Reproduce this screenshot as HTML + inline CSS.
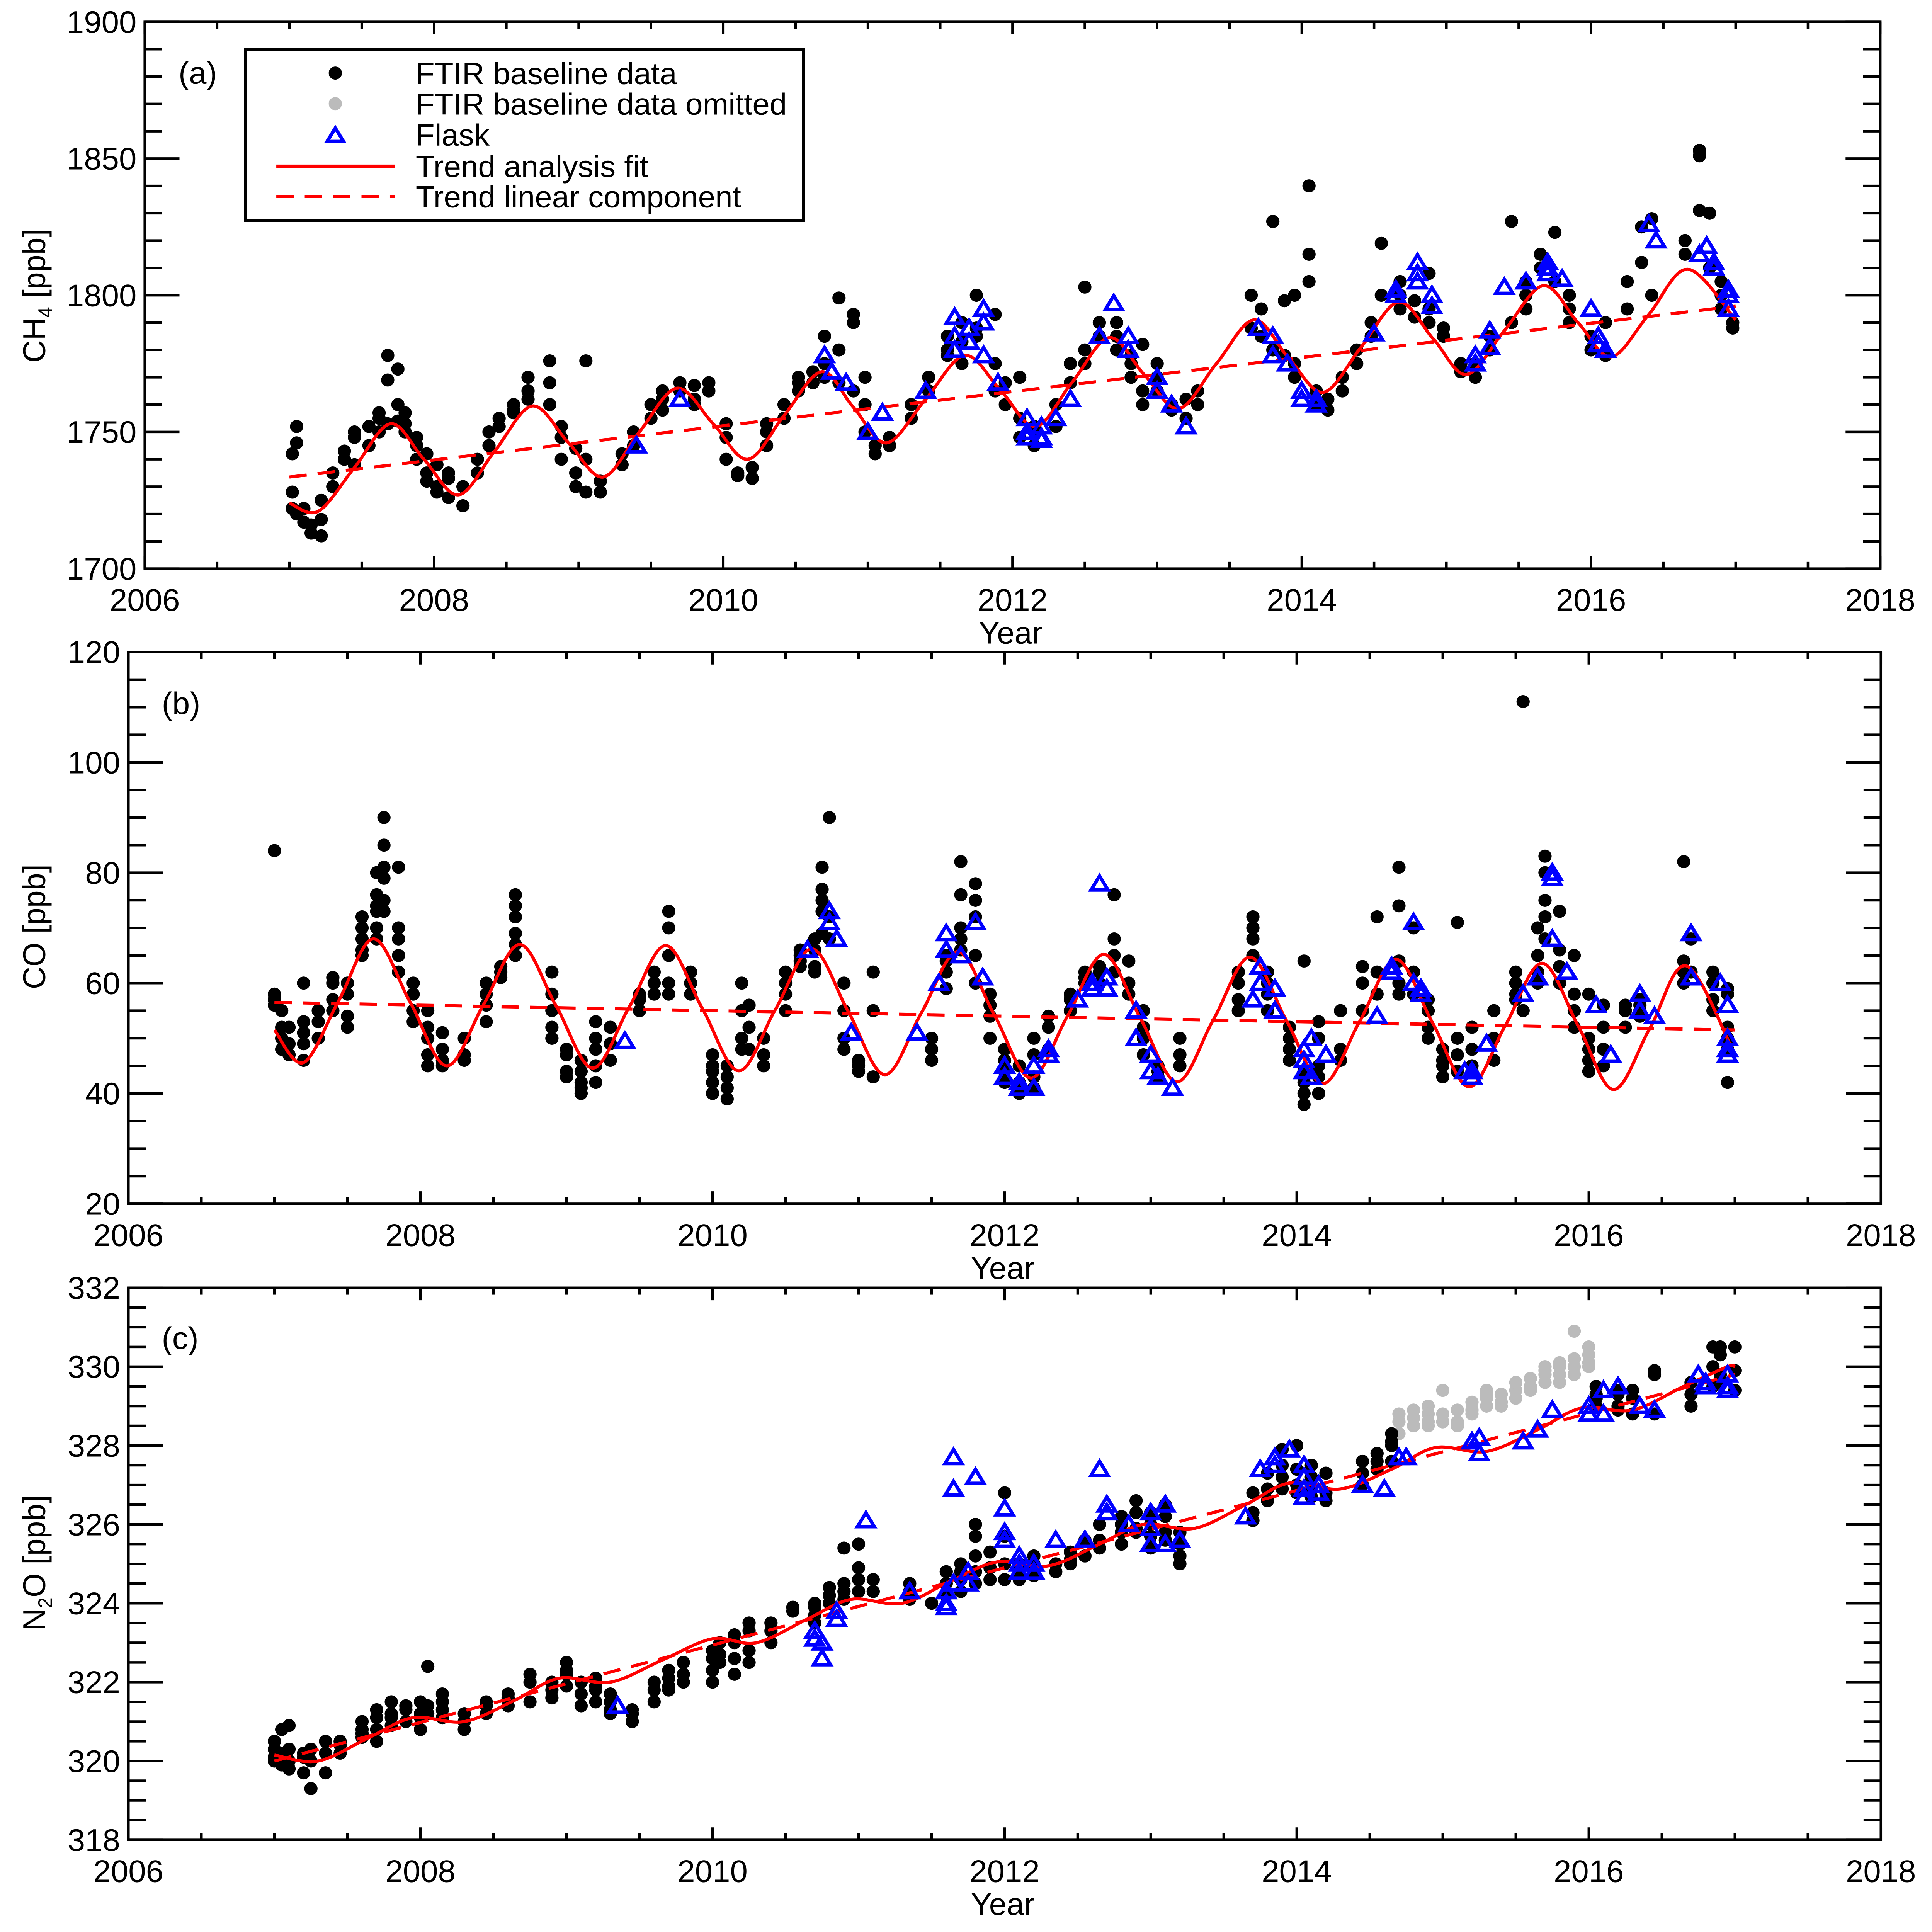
<!DOCTYPE html>
<html><head><meta charset="utf-8"><style>
html,body{margin:0;padding:0;background:#fff;overflow:hidden;width:100%;height:100%;}
svg{display:block;position:absolute;left:0;top:0;width:100vw;height:100vh;font-family:"Liberation Sans",sans-serif;}
</style></head><body>
<svg id="fig" xmlns="http://www.w3.org/2000/svg" viewBox="0 0 6125 6187" preserveAspectRatio="none">
<rect x="0" y="0" width="6125" height="6187" fill="#fff"/>
<g id="legend">
<rect x="779" y="158" width="1768" height="548" fill="#fff" stroke="#000" stroke-width="10"/>
<circle cx="1063" cy="234" r="21" fill="#000"/>
<text x="1318" y="269" font-size="98">FTIR baseline data</text>
<circle cx="1063" cy="332" r="21" fill="#bbb"/>
<text x="1318" y="367" font-size="98">FTIR baseline data omitted</text>
<polygon points="1037,453 1089,453 1063,410" fill="none" stroke="#00f" stroke-width="11"/>
<text x="1318" y="466" font-size="98">Flask</text>
<line x1="876" y1="532" x2="1252" y2="532" stroke="#f00" stroke-width="10"/>
<text x="1318" y="567" font-size="98">Trend analysis fit</text>
<line x1="876" y1="629" x2="1252" y2="629" stroke="#f00" stroke-width="10" stroke-dasharray="55 35"/>
<text x="1318" y="664" font-size="98">Trend linear component</text>
</g>
</svg>
<script>
// ---------- Panel (a) CH4 ----------
const ch4Ftir = [
[2007.02,1722,1728,1742],[2007.05,1752,1746,1720],[2007.1,1717,1722],[2007.15,1713,1716],[2007.22,1725,1712,1718],
[2007.3,1730,1735],[2007.38,1740,1743],[2007.45,1750,1748,1738],[2007.55,1745,1752],
[2007.62,1755,1757,1750],[2007.68,1778,1769,1753],[2007.75,1773,1760,1754],[2007.8,1757,1753,1750],
[2007.88,1748,1745,1740],[2007.95,1735,1732,1742],[2008.02,1730,1728,1738],[2008.1,1733,1726,1735],[2008.2,1723,1730],
[2008.3,1735,1740],[2008.38,1745,1750],[2008.45,1752,1755],[2008.55,1757,1760,1758],[2008.65,1765,1770,1762],
[2008.8,1776,1768,1760],[2008.88,1752,1748,1740],[2008.98,1735,1730,1744],[2009.05,1728,1776,1740],[2009.15,1728,1732],
[2009.3,1738,1742],[2009.38,1745,1750],[2009.5,1755,1760],[2009.58,1758,1762,1765],
[2009.7,1765,1768],[2009.8,1767,1762,1760],[2009.9,1768,1765],
[2010.02,1748,1740,1753],[2010.1,1735,1734],[2010.2,1737,1733],[2010.3,1745,1750,1753],
[2010.42,1755,1760],[2010.52,1765,1770,1768],[2010.62,1772,1768],
[2010.7,1785,1775,1770],[2010.8,1780,1799,1768],[2010.9,1790,1793,1765],[2010.98,1760,1770,1750],[2011.05,1745,1742],
[2011.15,1748,1745],[2011.3,1755,1760],[2011.42,1765,1770],
[2011.55,1780,1785,1778],[2011.65,1790,1775,1783],[2011.75,1788,1800,1785],
[2011.88,1775,1765,1793],[2011.95,1760,1768],[2012.05,1755,1748,1770],[2012.15,1752,1750,1745],
[2012.3,1752,1760],[2012.4,1768,1775],[2012.5,1780,1775,1803],[2012.6,1790,1785],
[2012.72,1790,1785,1780],[2012.82,1778,1775,1770],[2012.9,1765,1760,1782],[2013.0,1775,1770,1765],
[2013.1,1760,1758],[2013.2,1755,1762],[2013.28,1765,1760],
[2013.65,1788,1800],[2013.72,1795,1785],[2013.8,1780,1827],[2013.88,1798,1778],[2013.95,1770,1775,1800],
[2014.05,1840,1815,1805],[2014.1,1765,1760],[2014.18,1758,1762],
[2014.28,1765,1770],[2014.38,1775,1780],[2014.48,1785,1790],[2014.55,1800,1819],
[2014.68,1795,1800,1805],[2014.78,1798,1792],[2014.88,1795,1808,1790],[2014.98,1785,1788],
[2015.1,1775,1772],[2015.2,1770,1775],[2015.3,1780,1785],[2015.45,1827,1790],
[2015.55,1795,1800,1805],[2015.65,1810,1815],[2015.75,1823,1805],[2015.85,1795,1790,1800],
[2016.0,1785,1780],[2016.1,1778,1790],[2016.25,1795,1805],[2016.35,1812,1825],[2016.42,1828,1800],
[2016.65,1815,1820],[2016.75,1853,1851,1831],[2016.82,1830,1810],[2016.9,1800,1805,1795],[2016.98,1790,1788]
];
const ch4Flask = [
[2009.4,1745],[2009.7,1762],[2010.7,1778],[2010.75,1772],[2010.85,1768],[2011.0,1750],[2011.1,1757],[2011.4,1765],
[2011.6,1785,1780,1792],[2011.7,1788,1783],[2011.8,1795,1790,1778],[2011.9,1768],
[2012.1,1750,1748,1755],[2012.2,1747,1752,1748],[2012.3,1755],[2012.4,1762],[2012.6,1785],[2012.7,1797],[2012.8,1785,1780],
[2013.0,1770,1765],[2013.1,1760],[2013.2,1752],[2013.7,1788],[2013.8,1785,1778],[2013.9,1775],
[2014.0,1765,1762],[2014.1,1760,1762],[2014.5,1786],[2014.65,1800,1802],[2014.8,1808,1812,1805],[2014.9,1796,1800],
[2015.2,1778,1775],[2015.3,1781,1787],[2015.4,1803],[2015.55,1805],[2015.7,1808,1812,1810],[2015.8,1806],
[2016.0,1795],[2016.05,1785,1782],[2016.1,1780],[2016.4,1826],[2016.45,1820],[2016.75,1815],[2016.8,1818],
[2016.85,1812,1810],[2016.95,1800,1802,1795]
];
const ch4FitT = [2007.0,2007.2,2007.45,2007.7,2007.93,2008.17,2008.42,2008.68,2008.93,2009.17,2009.42,2009.68,2009.93,2010.17,2010.42,2010.68,2010.9,2011.13,2011.4,2011.67,2011.92,2012.16,2012.41,2012.67,2012.91,2013.15,2013.41,2013.67,2013.91,2014.15,2014.41,2014.67,2014.91,2015.14,2015.4,2015.67,2015.91,2016.14,2016.4,2016.67,2017.0];
const ch4FitV = [1724,1721,1737,1753,1740,1727,1743,1759.5,1746,1733.5,1750,1766,1753,1740,1756,1772,1759,1746,1762,1778,1765,1752,1768,1784.5,1771,1758.5,1775,1791,1777,1764.5,1781,1797.5,1784,1771,1787,1803.5,1790,1777.5,1793,1809.5,1791];
const ch4LinT = [2007.0,2017.0];
const ch4LinV = [1733.5,1796];
const ch4Ticks = [1700,1750,1800,1850,1900];

// ---------- Panel (b) CO ----------
const coFtir = [
[2007.0,58,57,56,84],[2007.05,55,52,50,48],[2007.1,52,49,47],[2007.2,53,51,49,46,60],[2007.3,55,53,50],[2007.4,61,60,57,55],
[2007.5,58,54,52,60],[2007.6,65,68,70,72,66],[2007.7,74,76,73,80,70,68],[2007.75,90,85,81,79,75,73],[2007.85,81,70,68,65,62],
[2007.95,60,58,55,53],[2008.05,55,52,50,47,45],[2008.15,48,46,45,51],[2008.3,46,47,50],[2008.45,53,56,58,60],[2008.55,61,62,63],
[2008.65,65,67,69,72,74,76],[2008.9,62,58,55,52,50],[2009.0,48,47,44,43],[2009.1,42,40,41,44,46],[2009.2,42,45,48,50,53],
[2009.3,46,49,52],[2009.5,55,57,58],[2009.6,58,60,62],[2009.7,65,73,70,60,58],[2009.85,62,60,58],[2010.0,45,44,42,40,47],
[2010.1,43,39,41,45],[2010.2,48,50,55,60],[2010.25,52,56,48],[2010.35,45,47,50],[2010.5,55,58,60,62],[2010.6,63,64,65,66],
[2010.7,66,68,63,62],[2010.75,81,75,77,73,69],[2010.8,90,72,68],[2010.9,60,55,50,48],[2011.0,46,45,44],[2011.1,43,55,62],
[2011.5,48,46,50],[2011.6,59,62,64,65],[2011.7,66,68,70,82,76],[2011.8,78,75,72,65,60],[2011.9,58,56,54,50],[2012.0,48,46,44,42],
[2012.1,40,42,45],[2012.2,41,43,47,50],[2012.3,48,52,54],[2012.45,55,57,58],[2012.55,60,61,62],[2012.65,63,62,60],
[2012.75,76,68,65,62],[2012.85,64,60,58],[2012.95,55,52,50,47],[2013.05,45,44,43],[2013.2,45,47,50],[2013.6,55,57,60,62],
[2013.7,65,68,70,72],[2013.8,62,60,58,55],[2013.95,52,50,48,46],[2014.05,44,42,40,38,64],[2014.15,40,43,45,50,53],[2014.3,55,48,46],
[2014.45,55,60,63],[2014.55,58,72,62],[2014.7,64,60,58,74,81],[2014.8,70,62,58],[2014.9,55,52,50,57],[2015.0,48,46,45,43],
[2015.1,44,47,50,71],[2015.2,48,45,44,52],[2015.35,46,50,55],[2015.5,57,58,60,62],[2015.55,111,55],[2015.65,60,62,65,70],
[2015.7,72,75,80,83,68],[2015.8,66,63,60,73],[2015.9,58,55,52,65],[2016.0,50,48,46,44,58],[2016.1,45,48,52,56],[2016.25,52,55,56],
[2016.35,54,56,57,55],[2016.65,60,62,64,82],[2016.7,68,62],[2016.85,60,57,55,62],[2016.95,58,52,50,48,42,59]
];
const coFlask = [
[2009.4,49.5],[2010.65,66],[2010.8,73,71],[2010.85,68],[2010.95,51],[2011.4,51],[2011.55,60],[2011.6,69,66],[2011.7,65],
[2011.8,71],[2011.85,61],[2012.0,45,43],[2012.1,42,41],[2012.2,41,45],[2012.3,47,48],[2012.5,57],[2012.6,59,60],[2012.65,78],
[2012.7,61,59],[2012.9,55,50],[2013.0,47,44],[2013.05,43],[2013.15,41],[2013.7,57],[2013.75,60,63],[2013.85,59,55],
[2014.05,46,44,48],[2014.1,43,50],[2014.2,47],[2014.55,54],[2014.65,63,62],[2014.8,71,60],[2014.85,58,59],[2015.15,44],
[2015.2,44,43],[2015.3,49],[2015.55,58],[2015.65,61],[2015.75,68,79,80],[2015.85,62],[2016.05,56],[2016.15,47],
[2016.35,55,58],[2016.45,54],[2016.7,69,61],[2016.9,60],[2016.95,56,50,48,47]
];
const coFitT = [2007.0,2007.2,2007.44,2007.68,2007.93,2008.18,2008.43,2008.68,2008.93,2009.18,2009.43,2009.68,2009.93,2010.18,2010.43,2010.68,2010.93,2011.18,2011.43,2011.68,2011.93,2012.18,2012.43,2012.68,2012.93,2013.18,2013.43,2013.68,2013.93,2014.18,2014.43,2014.68,2014.93,2015.18,2015.43,2015.68,2015.93,2016.17,2016.42,2016.67,2017.0];
const coFitV = [51.5,45.6,56.8,68,56.5,45,56,67,55.8,44.6,55.7,66.8,55.4,44.1,55.2,66.2,54.8,43.4,54.6,65.7,54.2,42.8,54,65.2,53.6,42.1,53.4,64.7,53.2,41.8,53,64.3,52.8,41.2,52.4,63.6,52.1,40.7,51.9,63.1,47];
const coLinT = [2007.0,2017.0];
const coLinV = [56.5,51.5];
const coTicks = [20,40,60,80,100,120];

// ---------- Panel (c) N2O ----------
const n2oFtir = [
[2007.0,320.1,320.3,320.0,320.5],[2007.05,320.2,319.9,320.8],[2007.1,320.9,320.0,319.8,320.3],[2007.2,320.2,319.7,320.1],
[2007.25,319.3,320.0,320.3],[2007.35,319.7,320.5,320.2],[2007.45,320.4,320.2,320.5],[2007.6,320.8,320.6,321.0,320.7],
[2007.7,321.1,320.8,320.5,321.3],[2007.8,321.5,321.1,320.9,321.2],[2007.9,321.4,321.0,321.3],[2008.0,321.2,321.5,321.1,320.8],
[2008.05,322.4,321.4,321.2],[2008.15,321.7,321.3,321.5,321.1],[2008.3,321.2,320.8,321.0],[2008.45,321.5,321.2,321.4],
[2008.6,321.7,321.4,321.6],[2008.75,322.0,321.5,322.2],[2008.9,322.0,321.8,321.6],[2009.0,322.5,322.3,321.9,322.2],
[2009.1,322.0,321.7,321.4],[2009.2,322.1,321.8,321.9,321.5],[2009.3,321.7,321.3,321.2,321.5],[2009.45,321.3,321.0,321.2],
[2009.6,321.5,321.8,322.0],[2009.7,321.8,322.1,322.3,321.9],[2009.8,322.2,322.5,322.0],[2010.0,322.6,322.3,322.0,322.8],
[2010.05,323.0,322.7,322.5],[2010.15,322.6,322.2,323.2,323.0],[2010.25,323.3,322.5,322.8,323.5],[2010.4,323.0,323.3,323.5],
[2010.55,323.8,323.9],[2010.7,323.9,324.0,323.5,323.7],[2010.8,324.2,324.0,324.4],[2010.9,324.3,324.5,324.1,325.4],
[2011.0,324.6,324.3,325.5,324.9],[2011.1,324.6,324.3],[2011.35,324.3,324.5,324.1],[2011.5,324.0],[2011.6,324.5,324.8,324.2],
[2011.7,324.6,325.0,324.3,324.8],[2011.8,325.2,325.7,324.8,324.5,326.0],[2011.9,325.3,324.9,324.6],[2012.0,325.0,324.6,326.8,325.7],
[2012.1,325.0,324.8,324.6],[2012.2,325.2,325.0,324.7,324.9],[2012.35,324.8,325.0],[2012.45,325.1,325.3,325.0],[2012.55,325.2,325.6],
[2012.65,325.6,326.0,325.4],[2012.8,325.8,326.0,326.2,325.5],[2012.9,326.3,325.8,325.9,326.6],[2013.0,326.0,325.7,325.4,326.3],
[2013.1,325.8,326.2,325.6,326.5],[2013.2,325.5,325.2,325.8,325.0],[2013.7,326.3,326.8,326.1],[2013.8,326.9,327.3,326.6],
[2013.9,327.5,327.9,327.2,326.9],[2014.0,327.0,326.8,327.4,328.0],[2014.1,327.2,326.9,327.5,326.7],[2014.2,326.8,327.3,326.6],
[2014.45,327.3,327.0,327.6],[2014.55,327.6,327.8,327.4],[2014.65,328.0,328.3,328.1,327.6],[2016.05,329.3,329.2,329.5,329.0],
[2016.2,329.0,329.3,328.9,329.4],[2016.3,328.8,329.2,329.4],[2016.45,329.8,329.9,328.8],[2016.7,329.3,329.6,329.0],
[2016.85,329.5,330.0,330.5],[2016.9,329.8,330.5,330.3,329.6],[2017.0,329.9,329.4,330.5]
];
const n2oOmitted = [
[2014.7,328.3,328.6,328.8],[2014.8,328.5,328.9,328.7],[2014.9,329.0,328.8,328.5,328.6],[2015.0,328.8,329.4,328.6],
[2015.1,328.6,328.9,328.5],[2015.2,328.9,328.8,329.1],[2015.3,329.0,329.3,329.2,329.4],[2015.4,329.3,329.1,329.0],
[2015.5,329.4,329.6,329.2],[2015.6,329.7,329.4,329.5],[2015.7,329.8,329.6,330.0,329.9],[2015.8,330.0,329.8,329.6,330.1],
[2015.9,330.2,330.0,330.9,329.8],[2016.0,330.1,330.3,330.5,330.0]
];
const n2oFlask = [
[2009.35,321.4],[2010.7,323.1,323.3],[2010.75,322.6,323.0],[2010.85,323.6,323.8],[2011.05,326.1],[2011.35,324.3],
[2011.6,324.0,323.9,324.3],[2011.65,327.7,326.9,324.5],[2011.75,324.5,324.8],[2011.8,327.2],[2012.0,325.6,325.8,326.4],
[2012.1,325.0,325.2,324.8],[2012.2,324.8,325.0,325.0],[2012.35,325.6],[2012.55,325.6],[2012.65,327.4],[2012.7,326.3,326.5],
[2012.85,326.0],[2013.0,325.5,325.9,326.3],[2013.1,325.5,326.5],[2013.2,325.6],[2013.65,326.2],[2013.75,327.4],
[2013.85,327.5,327.7],[2013.95,327.9],[2014.05,327.2,327.5,326.7,326.9],[2014.15,326.8,327.0],[2014.45,327.0],[2014.6,326.9],
[2014.7,327.7],[2014.75,327.7],[2015.2,328.1],[2015.25,327.8,328.2],[2015.55,328.1],[2015.65,328.4],[2015.75,328.9],
[2016.0,328.8,329.0],[2016.1,328.8,329.4],[2016.2,329.5],[2016.35,329.0],[2016.45,328.9],[2016.75,329.8],[2016.8,329.6,329.5],
[2016.95,329.8,329.5,329.4]
];
const n2oFitT = [2007.0,2007.3,2007.65,2007.95,2008.3,2008.65,2008.95,2009.3,2009.65,2010.0,2010.3,2010.65,2010.95,2011.3,2011.65,2011.95,2012.3,2012.65,2012.95,2013.3,2013.65,2013.95,2014.3,2014.65,2014.95,2015.3,2015.65,2015.95,2016.3,2016.65,2016.95,2017.0];
const n2oFitV = [320.15,320.0,320.6,321.1,321.0,321.55,322.1,322.0,322.55,323.1,323.0,323.6,324.1,324.0,324.6,325.05,324.95,325.5,326.0,325.9,326.5,327.05,326.9,327.4,327.95,327.85,328.4,328.95,328.9,329.5,330.0,330.0];
const n2oLinT = [2007.0,2017.0];
const n2oLinV = [320.0,329.8];
const n2oTicks = [318,320,322,324,326,328,330,332];

const yearTicks = [2006,2008,2010,2012,2014,2016,2018];

const NS = 'http://www.w3.org/2000/svg';
const svg = document.getElementById('fig');
const legendNode = document.getElementById('legend');
function mk(tag, attrs, parent) {
  const e = document.createElementNS(NS, tag);
  for (const k in attrs) e.setAttribute(k, attrs[k]);
  parent.appendChild(e);
  return e;
}
function smoothPath(pts) {
  let d = 'M' + pts[0][0].toFixed(1) + ',' + pts[0][1].toFixed(1);
  for (let i = 0; i < pts.length - 1; i++) {
    const p0 = pts[i - 1] || pts[i], p1 = pts[i], p2 = pts[i + 1], p3 = pts[i + 2] || p2;
    const c1x = p1[0] + (p2[0] - p0[0]) / 6, c1y = p1[1] + (p2[1] - p0[1]) / 6;
    const c2x = p2[0] - (p3[0] - p1[0]) / 6, c2y = p2[1] - (p3[1] - p1[1]) / 6;
    d += ' C' + c1x.toFixed(1) + ',' + c1y.toFixed(1) + ' ' + c2x.toFixed(1) + ',' + c2y.toFixed(1) + ' ' + p2[0].toFixed(1) + ',' + p2[1].toFixed(1);
  }
  return d;
}

function panel(cfg) {
  const g = mk('g', {}, svg);
  
  
  const X = t => cfg.L + (t - 2006) / 12 * (cfg.R - cfg.L);
  const Y = v => cfg.B - (v - cfg.ymin) / (cfg.ymax - cfg.ymin) * (cfg.B - cfg.T);
  const clip = 'clip-' + cfg.name;
  const cp = mk('clipPath', {id: clip}, g);
  mk('rect', {x: cfg.L, y: cfg.T, width: cfg.R - cfg.L, height: cfg.B - cfg.T}, cp);
  const plot = mk('g', {'clip-path': 'url(#' + clip + ')'}, g);

  if (cfg.omitted) cfg.omitted.forEach(row => {
    for (let i = 1; i < row.length; i++) {
      const c = mk('circle', {cx: X(row[0]), cy: Y(row[i]), r: 21, fill: '#bbb'}, plot);
      
      
    }
  });
  cfg.ftir.forEach(row => {
    for (let i = 1; i < row.length; i++) {
      const c = mk('circle', {cx: X(row[0]), cy: Y(row[i]), r: 21, fill: '#000'}, plot);
      
      
    }
  });
  const fitPts = cfg.fitT.map((t, i) => [X(t), Y(cfg.fitV[i])]);
  const fp = mk('path', {d: smoothPath(fitPts), fill: 'none', stroke: '#f00', 'stroke-width': 10}, plot);
  
  
  const lp = mk('path', {d: 'M' + X(cfg.linT[0]) + ',' + Y(cfg.linV[0]) + ' L' + X(cfg.linT[1]) + ',' + Y(cfg.linV[1]), fill: 'none', stroke: '#f00', 'stroke-width': 10, 'stroke-dasharray': '55 35'}, plot);
  
  
  cfg.flask.forEach(row => {
    for (let i = 1; i < row.length; i++) {
      const x = X(row[0]), y = Y(row[i]);
      const tri = mk('polygon', {points: (x - 27) + ',' + (y + 20) + ' ' + (x + 27) + ',' + (y + 20) + ' ' + x + ',' + (y - 25), fill: 'none', stroke: '#00f', 'stroke-width': 11}, plot);
      
      
    }
  });

  const fr = mk('rect', {x: cfg.L, y: cfg.T, width: cfg.R - cfg.L, height: cfg.B - cfg.T, fill: 'none', stroke: '#000', 'stroke-width': 8}, g);
  
  

  for (let k = 0; k <= 24; k++) {
    const t = 2006 + k * 0.5;
    const x = X(t);
    const len = (k % 4 === 0) ? 40 : 22;
    mk('line', {x1: x, y1: cfg.B, x2: x, y2: cfg.B - len, stroke: '#000', 'stroke-width': 8}, g);
    mk('line', {x1: x, y1: cfg.T, x2: x, y2: cfg.T + len, stroke: '#000', 'stroke-width': 8}, g);
  }
  yearTicks.forEach(t => {
    const tx = mk('text', {x: X(t), y: cfg.B + 135, 'font-size': 100, 'text-anchor': 'middle'}, g);
    
    
    tx.textContent = t;
  });
  const xt = mk('text', {x: (cfg.L + cfg.R) / 2 - 6, y: cfg.B + 240, 'font-size': 100, 'text-anchor': 'middle'}, g);
  
  
  xt.textContent = 'Year';

  const nMinor = Math.round((cfg.ymax - cfg.ymin) / cfg.minor);
  const per = Math.round(cfg.major / cfg.minor);
  for (let k = 0; k <= nMinor; k++) {
    const v = cfg.ymin + k * cfg.minor;
    const y = Y(v);
    const len = (k % per === 0) ? 110 : 55;
    mk('line', {x1: cfg.L, y1: y, x2: cfg.L + len, y2: y, stroke: '#000', 'stroke-width': 8}, g);
    mk('line', {x1: cfg.R, y1: y, x2: cfg.R - len, y2: y, stroke: '#000', 'stroke-width': 8}, g);
  }
  cfg.ticks.forEach(v => {
    const ty = mk('text', {x: cfg.L - 26, y: Y(v) + 35, 'font-size': 100, 'text-anchor': 'end'}, g);
    
    
    ty.textContent = v;
  });
  const yt = mk('text', {x: 0, y: 0, 'font-size': 100, 'text-anchor': 'middle', transform: 'translate(143,' + cfg.ycenter + ') rotate(-90)'}, g);
  
  
  const a = mk('tspan', {}, yt); a.textContent = cfg.ylab[0];
  const s = mk('tspan', {'font-size': 62, dy: 22}, yt); s.textContent = cfg.ylab[1];
  const b = mk('tspan', {dy: -22}, yt); b.textContent = cfg.ylab[2];
  const pl = mk('text', {x: cfg.letterX, y: cfg.letterY, 'font-size': 100, 'text-anchor': 'middle'}, g);
  
  
  pl.textContent = cfg.letter;
}

panel({name: 'panel-a-ch4', L: 459, R: 5961, T: 70, B: 1821, ymin: 1700, ymax: 1900, major: 50, minor: 10, ticks: ch4Ticks,
  ftir: ch4Ftir, flask: ch4Flask, fitT: ch4FitT, fitV: ch4FitV, linT: ch4LinT, linV: ch4LinV,
  ylab: ['CH', '4', ' [ppb]'], ycenter: 947, letter: '(a)', letterX: 627, letterY: 268});
panel({name: 'panel-b-co', L: 407, R: 5963, T: 2088, B: 3855, ymin: 20, ymax: 120, major: 20, minor: 5, ticks: coTicks,
  ftir: coFtir, flask: coFlask, fitT: coFitT, fitV: coFitV, linT: coLinT, linV: coLinV,
  ylab: ['CO [ppb]', '', ''], ycenter: 2968, letter: '(b)', letterX: 574, letterY: 2287});
panel({name: 'panel-c-n2o', L: 407, R: 5963, T: 4124, B: 5892, ymin: 318, ymax: 332, major: 2, minor: 0.5, ticks: n2oTicks,
  ftir: n2oFtir, omitted: n2oOmitted, flask: n2oFlask, fitT: n2oFitT, fitV: n2oFitV, linT: n2oLinT, linV: n2oLinV,
  ylab: ['N', '2', 'O [ppb]'], ycenter: 5005, letter: '(c)', letterX: 571, letterY: 4320});

svg.appendChild(legendNode);
</script>
</body></html>
